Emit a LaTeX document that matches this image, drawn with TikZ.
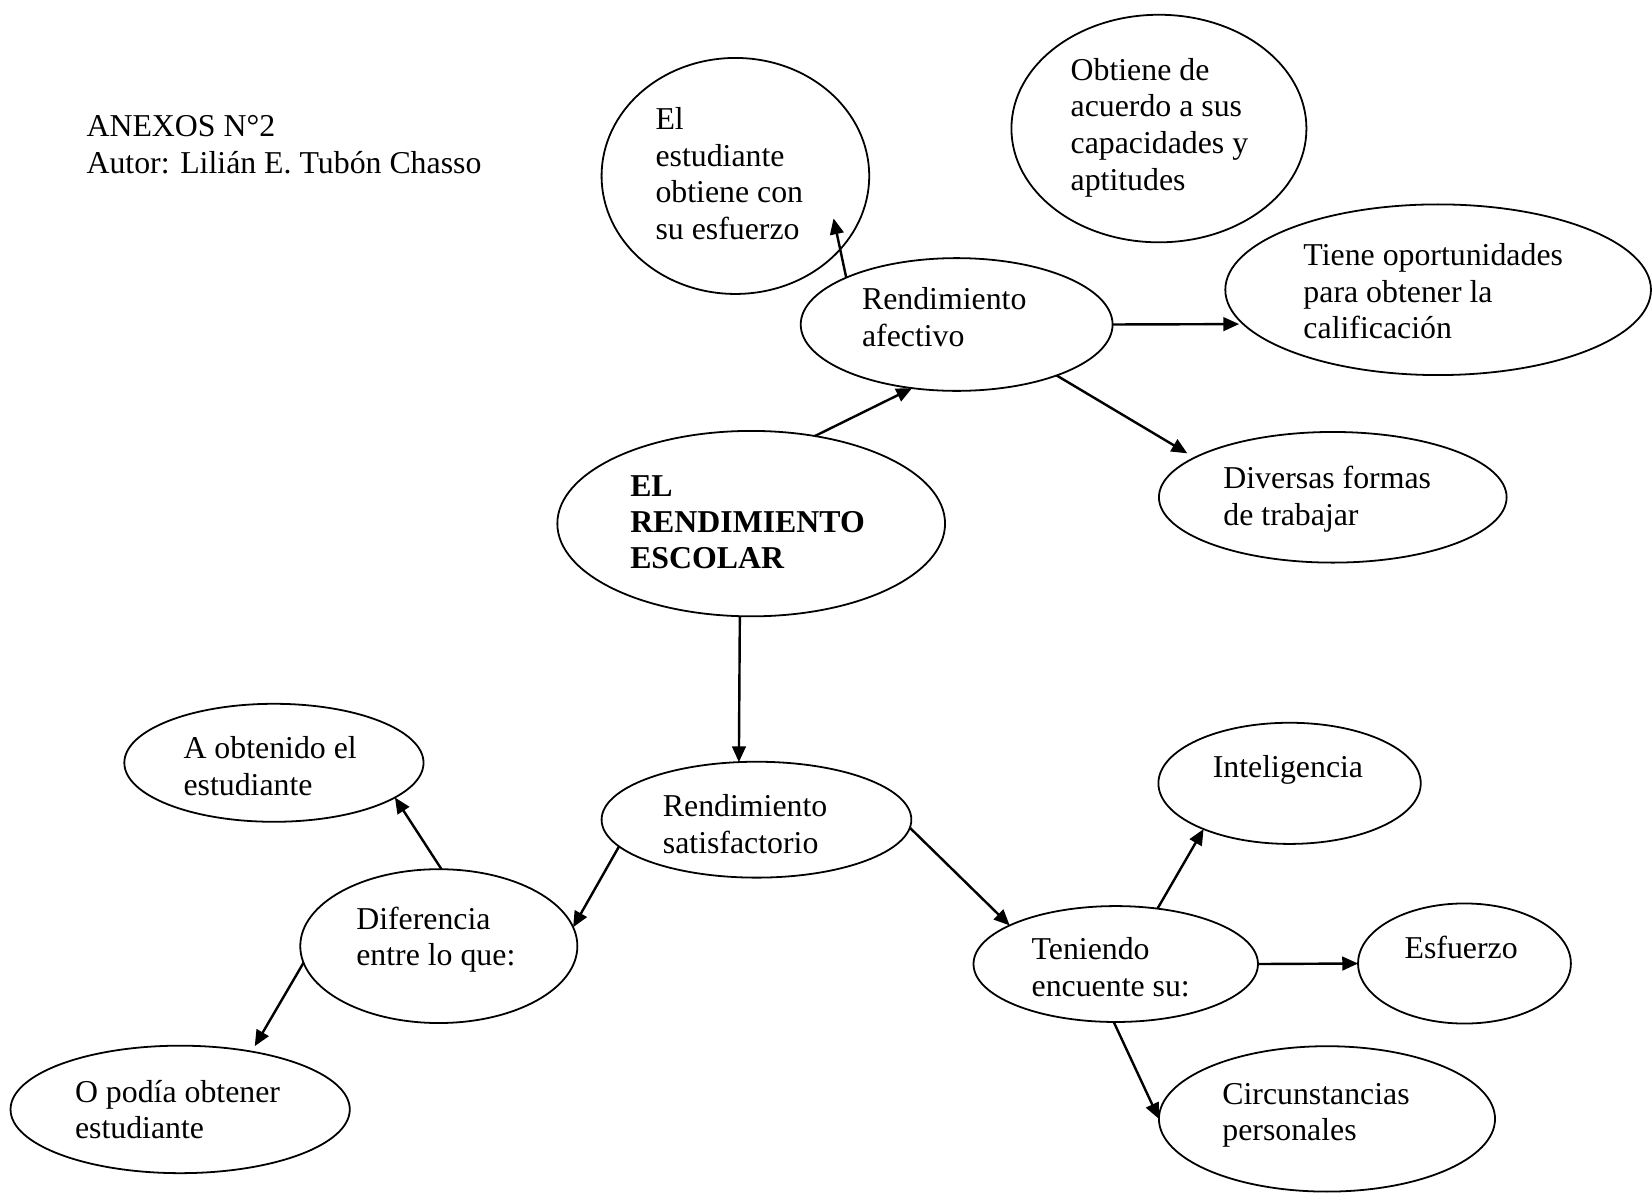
\documentclass[tikz,border=0pt]{standalone}
\usepackage{fontspec}
\setmainfont{Liberation Serif}
\usetikzlibrary{shapes.geometric,arrows.meta}
\begin{document}
\begin{tikzpicture}[x=1pt,y=-1pt,
  ell/.style={draw,ellipse,line width=1.7pt,inner sep=0pt,outer sep=0pt},
  txt/.style={anchor=base west,inner sep=0pt,align=left,font=\fontsize{30.2}{34.8}\selectfont},
  arr/.style={line width=2.3pt,-{Triangle[length=15pt,width=13pt]}}]
\useasboundingbox (0,0) rectangle (1568,1132);
% ellipses
\node[ell,minimum width=254pt,minimum height=224pt] (est) at (698,167) {};
\node[ell,minimum width=280pt,minimum height=216pt] (obt) at (1100,122) {};
\node[ell,minimum width=296pt,minimum height=126pt] (afe) at (908,308) {};
\node[ell,minimum width=404pt,minimum height=162pt] (tie) at (1365,275) {};
\node[ell,minimum width=330pt,minimum height=124pt] (div) at (1265,472) {};
\node[ell,minimum width=368pt,minimum height=176pt] (esc) at (713,497) {};
\node[ell,minimum width=284pt,minimum height=112pt] (aob) at (260,724) {};
\node[ell,minimum width=294pt,minimum height=110pt] (sat) at (718,778) {};
\node[ell,minimum width=249pt,minimum height=115pt] (int) at (1224,743.5) {};
\node[ell,minimum width=263pt,minimum height=146pt] (dif) at (416.5,898) {};
\node[ell,minimum width=270pt,minimum height=110pt] (ten) at (1059,915) {};
\node[ell,minimum width=202pt,minimum height=114pt] (esf) at (1390,914.5) {};
\node[ell,minimum width=322pt,minimum height=121pt] (opo) at (171,1053) {};
\node[ell,minimum width=319pt,minimum height=138pt] (cir) at (1259.5,1062) {};
% texts (anchor = baseline of last line)
\node[txt] (tAnexos) at (82,164.8) {ANEXOS N°2\\Autor: Lilián E. Tubón Chasso};
\node[txt] (tEst) at (622,227.4) {El\\estudiante\\obtiene con\\su esfuerzo};
\node[txt] (tObt) at (1016,180.4) {Obtiene de\\acuerdo a sus\\capacidades y\\aptitudes};
\node[txt] (tAfe) at (818,328.8) {Rendimiento\\afectivo};
\node[txt] (tTie) at (1237,321.6) {Tiene oportunidades\\para obtener la\\calificación};
\node[txt] (tDiv) at (1161,498.8) {Diversas formas\\de trabajar};
\node[txt,font=\fontsize{30.2}{34.5}\selectfont\bfseries] (tEsc) at (598,540) {EL\\RENDIMIENTO\\ESCOLAR};
\node[txt] (tAob) at (174,754.8) {A obtenido el\\estudiante};
\node[txt] (tSat) at (629,809.8) {Rendimiento\\satisfactorio};
\node[txt] (tInt) at (1151,738) {Inteligencia};
\node[txt] (tDif) at (338,916.8) {Diferencia\\entre lo que:};
\node[txt] (tTen) at (979,945.8) {Teniendo\\encuente su:};
\node[txt] (tEsf) at (1333,910) {Esfuerzo};
\node[txt] (tOpo) at (71,1080.8) {O podía obtener\\estudiante};
\node[txt] (tCir) at (1160,1082.8) {Circunstancias\\personales};
% arrows
\draw[arr] (esc.54.1) -- (afe.-125.4);
\draw[arr,shorten >=-30pt] (afe.157) -- (est.-35.3);
\draw[arr,shorten >=4pt] (afe.0) -- (tie.-170.6);
\draw[arr,shorten >=8pt] (afe.-27.8) -- (div.164.7);
\draw[arr] (esc.-97.7) -- (sat.107.2);
\draw[arr] (sat.-169.1) -- (dif.8.6);
\draw[arr] (sat.-3.5) -- (ten.160.5);
\draw[arr] (dif.88.8) -- (aob.-16.5);
\draw[arr,shorten >=6pt] (dif.-173.4) -- (opo.39);
\draw[arr] (ten.53.5) -- (int.-152.9);
\draw[arr] (ten.0) -- (esf.180);
\draw[arr] (ten.-92) -- (cir.180.4);
\end{tikzpicture}
\end{document}
